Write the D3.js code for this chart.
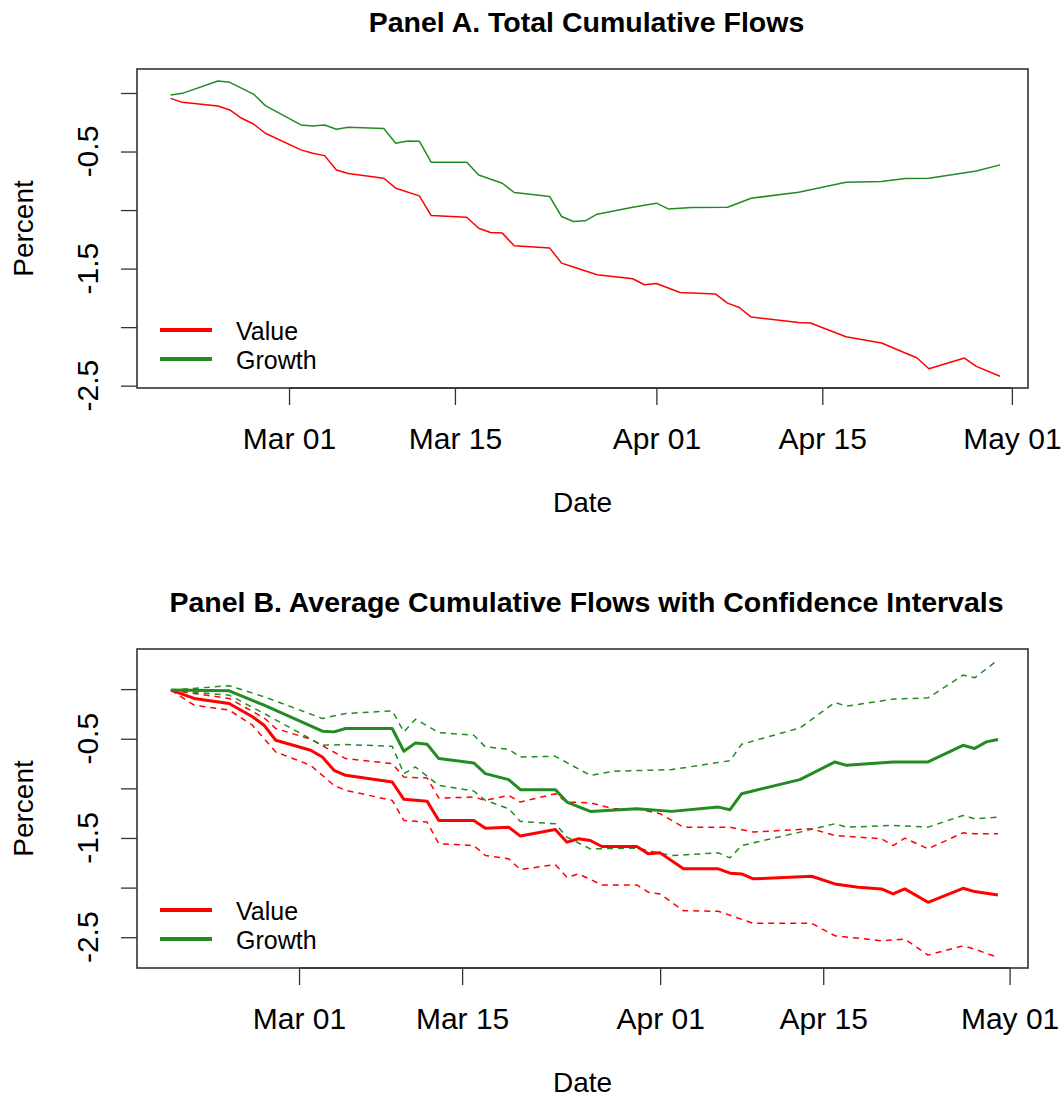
<!DOCTYPE html>
<html>
<head>
<meta charset="utf-8">
<script src="https://cdn.jsdelivr.net/npm/d3@7"></script>
<style>
  body { margin: 0; background: #fff; }
  text { font-family: "Liberation Sans", Arial, sans-serif; fill: #000; }
</style>
</head>
<body>
<svg id="chart" width="1062" height="1097"></svg>
<script>
// Days are offsets from 2020-03-01, values are percent
const valueTotal = [[-10,-0.046],[-9,-0.080],[-6,-0.111],[-5,-0.145],[-4,-0.216],[-3,-0.265],[-2,-0.344],[1,-0.486],[2,-0.515],[3,-0.535],[4,-0.657],[5,-0.688],[8,-0.728],[9,-0.813],[11,-0.879],[12,-1.047],[15,-1.061],[16,-1.155],[17,-1.192],[18,-1.197],[19,-1.305],[22,-1.325],[23,-1.453],[24,-1.487],[26,-1.553],[29,-1.587],[30,-1.638],[31,-1.627],[33,-1.704],[36,-1.718],[37,-1.795],[38,-1.832],[39,-1.914],[43,-1.960],[44,-1.965],[47,-2.082],[50,-2.136],[53,-2.264],[54,-2.355],[57,-2.264],[58,-2.335],[60,-2.420]];
const growthTotal = [[-10,-0.017],[-9,-0.003],[-6,0.102],[-5,0.091],[-3,-0.009],[-2,-0.108],[1,-0.273],[2,-0.282],[3,-0.273],[4,-0.310],[5,-0.293],[8,-0.304],[9,-0.429],[10,-0.410],[11,-0.412],[12,-0.592],[15,-0.592],[16,-0.700],[18,-0.771],[19,-0.850],[22,-0.885],[23,-1.055],[24,-1.098],[25,-1.092],[26,-1.035],[29,-0.976],[31,-0.941],[32,-0.990],[34,-0.978],[37,-0.976],[39,-0.899],[43,-0.848],[47,-0.762],[50,-0.757],[52,-0.731],[54,-0.728],[58,-0.666],[60,-0.614]];

const valueMean = [[-11,-0.010],[-9,-0.094],[-6,-0.145],[-4,-0.279],[-3,-0.364],[-2,-0.515],[1,-0.616],[2,-0.684],[3,-0.818],[4,-0.869],[8,-0.936],[9,-1.111],[11,-1.131],[12,-1.323],[15,-1.323],[16,-1.401],[18,-1.391],[19,-1.481],[22,-1.414],[23,-1.542],[24,-1.508],[25,-1.525],[26,-1.586],[29,-1.586],[30,-1.660],[31,-1.650],[33,-1.811],[36,-1.811],[37,-1.855],[38,-1.862],[39,-1.912],[44,-1.886],[46,-1.963],[48,-1.997],[50,-2.013],[51,-2.064],[52,-2.013],[54,-2.148],[57,-2.007],[58,-2.040],[60,-2.074]];
const valueUpper = [[-11,-0.010],[-9,-0.044],[-6,-0.094],[-3,-0.290],[-2,-0.397],[1,-0.505],[4,-0.700],[8,-0.751],[9,-0.886],[11,-0.896],[12,-1.098],[15,-1.088],[16,-1.121],[18,-1.071],[19,-1.138],[22,-1.054],[23,-1.138],[25,-1.145],[27,-1.205],[29,-1.205],[31,-1.256],[33,-1.391],[37,-1.391],[39,-1.441],[44,-1.407],[46,-1.475],[50,-1.508],[51,-1.576],[52,-1.502],[54,-1.609],[57,-1.448],[58,-1.458],[60,-1.458]];
const valueLower = [[-11,-0.010],[-9,-0.162],[-6,-0.212],[-4,-0.364],[-2,-0.633],[1,-0.768],[3,-0.970],[4,-1.020],[8,-1.121],[9,-1.323],[11,-1.340],[12,-1.559],[15,-1.576],[16,-1.677],[18,-1.710],[19,-1.818],[22,-1.768],[23,-1.896],[24,-1.862],[26,-1.973],[29,-1.973],[30,-2.047],[31,-2.064],[33,-2.232],[36,-2.239],[39,-2.360],[44,-2.360],[46,-2.485],[50,-2.535],[52,-2.519],[54,-2.680],[57,-2.586],[58,-2.620],[60,-2.704]];
const growthMean = [[-11,-0.010],[-6,-0.017],[-3,-0.162],[2,-0.424],[3,-0.431],[4,-0.397],[8,-0.397],[9,-0.626],[10,-0.542],[11,-0.556],[12,-0.700],[15,-0.744],[16,-0.852],[18,-0.912],[19,-1.013],[22,-1.013],[23,-1.138],[25,-1.232],[29,-1.205],[32,-1.232],[36,-1.189],[37,-1.215],[38,-1.054],[43,-0.912],[46,-0.734],[47,-0.768],[51,-0.734],[54,-0.734],[57,-0.566],[58,-0.599],[59,-0.532],[60,-0.508]];
const growthUpper = [[-11,-0.010],[-6,0.034],[-3,-0.077],[2,-0.296],[4,-0.246],[8,-0.219],[9,-0.431],[10,-0.303],[12,-0.438],[15,-0.465],[16,-0.582],[18,-0.606],[19,-0.684],[22,-0.677],[25,-0.869],[27,-0.828],[32,-0.811],[37,-0.721],[38,-0.556],[43,-0.391],[46,-0.135],[47,-0.172],[51,-0.101],[54,-0.088],[57,0.141],[58,0.114],[60,0.293]];
const growthLower = [[-11,-0.010],[-6,-0.061],[-3,-0.246],[2,-0.566],[4,-0.559],[8,-0.576],[9,-0.852],[10,-0.785],[12,-0.970],[15,-1.027],[16,-1.121],[18,-1.205],[19,-1.333],[22,-1.357],[23,-1.492],[25,-1.609],[29,-1.603],[32,-1.677],[36,-1.650],[37,-1.700],[38,-1.576],[43,-1.441],[46,-1.357],[47,-1.391],[51,-1.374],[54,-1.391],[57,-1.273],[58,-1.306],[60,-1.290]];

const xTicks = ['2020-03-01','2020-03-15','2020-04-01','2020-04-15','2020-05-01'];
const yTicks = [0, -0.5, -1, -1.5, -2, -2.5];
const yLabels = [-0.5, -1.5, -2.5];
const legendNames = ['Value', 'Growth'];

const RED = '#ff0000', GREEN = '#228b22';
const base = Date.UTC(2020, 2, 1);
const toDate = d => new Date(base + d * 864e5);
const svg = d3.select('#chart');

function panel(cfg) {
  const {top, bottom, left, right} = cfg.box;
  const x = d3.scaleUtc().domain(cfg.xDays.map(toDate)).range([left, right]);
  const y = d3.scaleLinear().domain(cfg.yDomain).range([bottom, top]);
  const g = svg.append('g');

  g.append('text').attr('x', (left + right) / 2 + 4).attr('y', top - 37)
    .attr('text-anchor', 'middle').style('font-size', '28.5px').style('font-weight', 'bold')
    .text(cfg.title);

  // x axis
  const xa = g.append('g').attr('transform', `translate(0,${bottom})`)
    .call(d3.axisBottom(x).tickValues(xTicks.map(s => new Date(s + 'T00:00:00Z')))
      .tickFormat(d3.utcFormat('%b %d')).tickSize(17).tickPadding(23));
  xa.select('.domain').remove();
  xa.selectAll('line').attr('stroke', '#333').attr('stroke-width', 1.3);
  xa.append('line').attr('x1', x(toDate(0))).attr('x2', x(toDate(61))).attr('stroke', '#333').attr('stroke-width', 1.3);
  xa.selectAll('text').style('font-size', '30px').attr('fill', '#000');
  g.append('text').attr('x', (left + right) / 2).attr('y', bottom + 124)
    .attr('text-anchor', 'middle').style('font-size', '28px').text('Date');

  // y axis
  const ya = g.append('g').attr('transform', `translate(${left},0)`)
    .call(d3.axisLeft(y).tickValues(yTicks).tickSize(16).tickFormat(() => ''));
  ya.select('.domain').remove();
  ya.selectAll('line').attr('stroke', '#333').attr('stroke-width', 1.3);
  yLabels.forEach(v => {
    g.append('text').attr('transform', `translate(98,${y(v)}) rotate(-90)`)
      .attr('text-anchor', 'middle').style('font-size', '30px').text(v.toFixed(1));
  });
  g.append('text').attr('transform', `translate(33,${(top + bottom) / 2}) rotate(-90)`)
    .attr('text-anchor', 'middle').style('font-size', '28px').text('Percent');

  const line = d3.line().x(d => x(toDate(d[0]))).y(d => y(d[1]));
  cfg.series.forEach(s => {
    g.append('path').datum(s.data).attr('d', line).attr('fill', 'none')
      .attr('stroke', s.color).attr('stroke-width', s.width)
      .attr('stroke-dasharray', s.dash || null).attr('stroke-linejoin', 'round');
  });

  g.append('rect').attr('x', left).attr('y', top).attr('width', right - left)
    .attr('height', bottom - top).attr('fill', 'none').attr('stroke', '#333').attr('stroke-width', 1.6);

  // legend
  [RED, GREEN].forEach((c, i) => {
    const ly = cfg.legendY + i * 29;
    g.append('line').attr('x1', 160).attr('x2', 212).attr('y1', ly).attr('y2', ly)
      .attr('stroke', c).attr('stroke-width', 4);
    g.append('text').attr('x', 236).attr('y', ly + 10).style('font-size', '25px').text(legendNames[i]);
  });
}

panel({
  title: 'Panel A. Total Cumulative Flows',
  box: {top: 69, bottom: 388, left: 137, right: 1028},
  xDays: [-12.83, 62.36], yDomain: [-2.52, 0.205], legendY: 330,
  series: [
    {data: valueTotal, color: RED, width: 1.5},
    {data: growthTotal, color: GREEN, width: 1.5}
  ]
});

panel({
  title: 'Panel B. Average Cumulative Flows with Confidence Intervals',
  box: {top: 649, bottom: 968, left: 137, right: 1028},
  xDays: [-13.91, 62.58], yDomain: [-2.81, 0.404], legendY: 910,
  series: [
    {data: valueUpper, color: RED, width: 1.5, dash: '6,5'},
    {data: valueLower, color: RED, width: 1.5, dash: '6,5'},
    {data: growthUpper, color: GREEN, width: 1.5, dash: '6,5'},
    {data: growthLower, color: GREEN, width: 1.5, dash: '6,5'},
    {data: valueMean, color: RED, width: 3},
    {data: growthMean, color: GREEN, width: 3}
  ]
});
</script>
</body>
</html>
